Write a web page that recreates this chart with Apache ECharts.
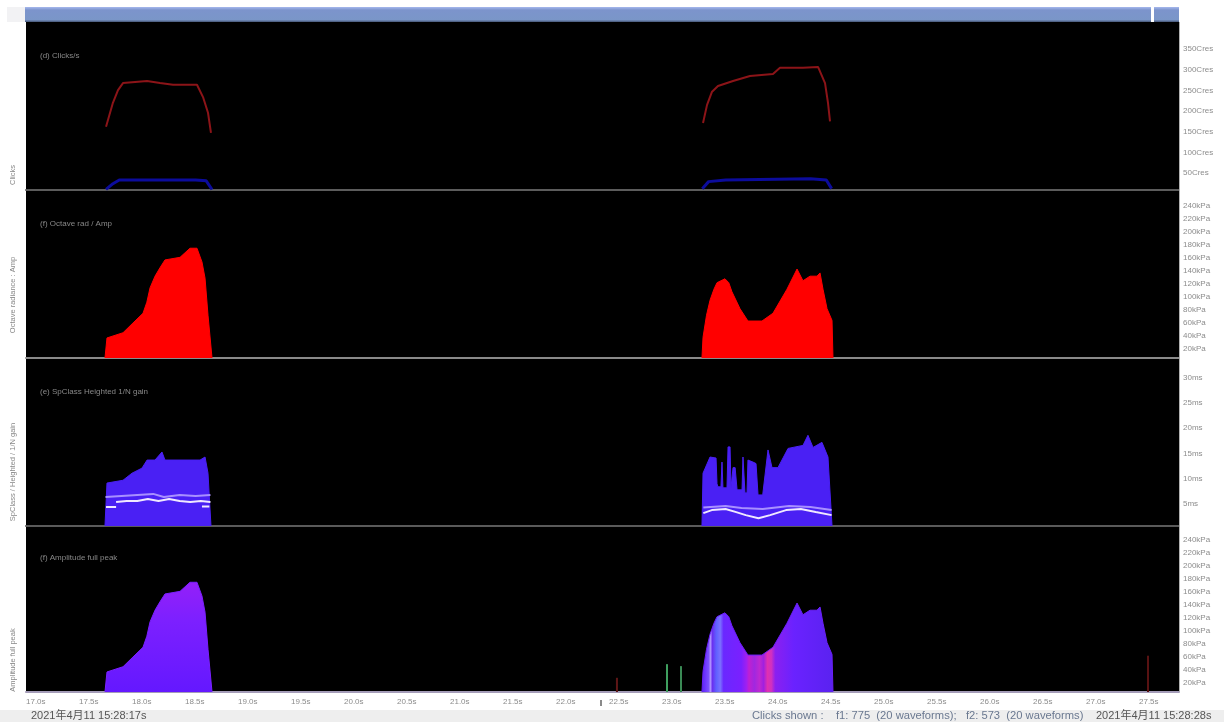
<!DOCTYPE html>
<html><head><meta charset="utf-8">
<style>html,body{margin:0;padding:0;background:#fff}#c{width:1224px;height:722px;filter:blur(.7px)}</style>
<script src="https://cdn.jsdelivr.net/npm/echarts@6/dist/echarts.min.js"></script>
</head><body><div id="c"></div>
<script>
// ---- data (time in seconds from the left edge) ----
const timeTickLabels = ['17.0s','17.5s','18.0s','18.5s','19.0s','19.5s','20.0s','20.5s','21.0s','21.5s','22.0s','22.5s','23.0s','23.5s','24.0s','24.5s','25.0s','25.5s','26.0s','26.5s','27.0s','27.5s'];
const clickTicks = [50,100,150,200,250,300,350];
const clickTickLabels = ['50Cres','100Cres','150Cres','200Cres','250Cres','300Cres','350Cres'];
const ampTicks = [20,40,60,80,100,120,140,160,180,200,220,240];
const ampTickLabels = ['20kPa','40kPa','60kPa','80kPa','100kPa','120kPa','140kPa','160kPa','180kPa','200kPa','220kPa','240kPa'];
const gainTicks = [5,10,15,20,25,30];
const gainTickLabels = ['5ms','10ms','15ms','20ms','25ms','30ms'];

const redClicksT = [.755,.82,.868,.915,1.142,1.264,1.387,1.613,1.67,1.717,1.745,1.75, 6.387,6.425,6.472,6.528,6.67,6.83,7.047,7.113,7.33,7.472,7.538,7.566,7.585];
const redClicksV = [162,220,251,268,273,268,264,264,234,196,147,null, 171,215,247,261,273,285,290,305,305,307,268,220,175];
const blueClicksT = [.755,.82,.88,1.6,1.7,1.755,1.76, 6.38,6.44,6.6,7.4,7.55,7.6];
const blueClicksV = [10,24,33,33,31,10,null, 12,29,33,36,33,12];

const ampLeftT = [.745,.764,.915,1.009,1.104,1.14,1.17,1.217,1.264,1.311,1.453,1.547,1.613,1.66,1.689,1.717,1.755];
const ampLeftV = [6.15,37,45,60,75,92,114,132,145,157,161,175,175,154,129,72,6.15];
const ampRightT = [6.377,6.387,6.42,6.453,6.49,6.519,6.594,6.63,6.66,6.736,6.811,6.943,7.047,7.179,7.274,7.33,7.396,7.462,7.491,7.519,7.557,7.604,7.613];
const ampRightV = [6.15,38,72,95,112,122,128,122,108,82,63,63,75,112,143,125,132,132,137,112,82,64,6.15];

const gainLeftT = [.745,.764,.915,1,1.094,1.142,1.217,1.283,1.311,1.642,1.689,1.717,1.745];
const gainLeftV = [.65,9.15,9.7,11.1,12.1,13.7,13.7,15.3,13.7,13.7,14.3,11.1,.65];
const gainRightT = [6.377,6.387,6.453,6.51,6.519,6.528,6.556,6.566,6.575,6.613,6.623,6.642,6.651,6.67,6.69,6.708,6.717,6.755,6.764,6.774,6.783,6.802,6.811,6.858,6.887,6.906,6.95,7,7.038,7.094,7.189,7.33,7.377,7.425,7.509,7.566,7.604];
const gainRightV = [.65,11.1,14.3,14.1,9,8.4,8.4,13.3,8.2,8.2,16.3,16.3,8.2,12.2,12.2,7.8,7.8,7.8,14.3,14.3,7.2,7.2,13.7,13.3,13,6.8,6.8,15.7,12.2,12.2,16,16.6,18.6,16.2,17.2,14.3,.65];

const whiteT = [.755,.85,.851, .85,.95,1.05,1.15,1.25,1.35,1.45,1.55,1.65,1.74,1.75, 1.66,1.73,1.74, 6.39,6.47,6.6,6.7,6.79,6.91,7.02,7.17,7.31,7.45,7.6];
const whiteV = [4.4,4.4,null, 5.4,5.6,5.6,6,5.6,6,5.6,5.4,5.6,5.4,null, 4.5,4.5,null, 3.2,3.8,4,3.4,2.8,2.2,2.8,3.8,4,3.4,2.8];
const lilacT = [.75,.9,1.05,1.2,1.3,1.45,1.6,1.74,1.75, 6.39,6.6,6.75,6.95,7.2,7.4,7.6];
const lilacV = [6.4,6.6,6.8,7,6.4,6.8,6.6,6.8,null, 4.3,4.6,4.2,4,4.6,4.4,3.8];

const spikeT = [5.575,6.047,6.179,10.585];
const spikeV = [28,49,46,62];
const spikeColors = ['#5e1616','#3f9f5f','#3a8a55','#581212'];

const zip = (t,v) => t.map((x,i)=>[x,v[i]]);

// ---- layout ----
const L = 26, W = 1153, H = 722, gridY = [[22,190],[192,358],[360,526],[528,692]];
const sepColors = ['#5c5c5c','#8a8a8a','#5a5a5a','#a49cb8'];
const yCfg = [
  {min:8.7,max:416,ticks:clickTicks,labels:clickTickLabels},
  {min:6.15,max:261.5,ticks:ampTicks,labels:ampTickLabels},
  {min:.65,max:33.5,ticks:gainTicks,labels:gainTickLabels},
  {min:6.15,max:258.5,ticks:ampTicks,labels:ampTickLabels}
];
const grids = gridY.map(([a,b])=>({left:L,width:W,top:a,height:b-a,containLabel:false}));
const xAxes = gridY.map((_,i)=>({
  type:'value',gridIndex:i,min:0,max:W/106,interval:.5,splitLine:{show:false},axisTick:{show:false},
  axisLine:{show:true,onZero:false,lineStyle:{color:sepColors[i],width:2}},
  axisLabel:{show:i===3,align:'left',margin:6,fontSize:8,color:'#8c8c8c',fontFamily:'Liberation Sans',showMaxLabel:false,
    formatter:v=>timeTickLabels[Math.round(v*2)]||''}
}));
const yAxes = yCfg.map((c,i)=>({
  type:'value',gridIndex:i,position:'right',min:c.min,max:c.max,splitLine:{show:false},axisTick:{show:false},axisLine:{show:false},
  axisLabel:{align:'left',margin:4,fontSize:8,color:'#8c8c8c',fontFamily:'Liberation Sans',customValues:c.ticks,padding:[3,0,0,0],
    formatter:v=>c.labels[c.ticks.indexOf(v)]}
}));
const g = (x,stops)=>new echarts.graphic.LinearGradient(0,0,x?1:0,x?0:1,stops.map(([o,c])=>({offset:o,color:c})));
const line=(i,t,v,color,width,z)=>({type:'line',xAxisIndex:i,yAxisIndex:i,data:zip(t,v),showSymbol:false,connectNulls:false,z:z||3,lineStyle:{color,width},itemStyle:{color},silent:true,clip:true});
const area=(i,t,v,fill,edge)=>({type:'line',xAxisIndex:i,yAxisIndex:i,data:zip(t,v),showSymbol:false,silent:true,z:2,lineStyle:{color:edge,width:1},itemStyle:{color:edge},areaStyle:{color:fill,opacity:1,origin:'start'}});

const leftAmpFill = g(false,[[0,'#9420f8'],[.35,'#7c20ff'],[1,'#6418ff']]);
const rightAmpFill = g(true,[[0,'#5a2cf0'],[.02,'#6a30ff'],[.05,'#7a50ff'],[.065,'#b090ff'],[.08,'#6a30f0'],[.11,'#6060ff'],[.14,'#7a70ff'],[.165,'#6a28ff'],[.3,'#7a20ff'],[.34,'#a020f0'],[.36,'#c020d0'],[.4,'#a028e0'],[.44,'#c028d0'],[.47,'#a020e0'],[.5,'#e030b0'],[.53,'#d030c0'],[.56,'#8a20f0'],[.7,'#6a22ff'],[1,'#5a22f0']]);

const series = [
  line(0,redClicksT,redClicksV,'#8c1418',2),
  line(0,blueClicksT,blueClicksV,'#0c0c9c',3),
  area(1,ampLeftT,ampLeftV,'#ff0000','#ff0000'),
  area(1,ampRightT,ampRightV,'#ff0000','#ff0000'),
  area(2,gainLeftT,gainLeftV,'#4a20f4','#4a20f4'),
  area(2,gainRightT,gainRightV,'#4a20f4','#4a20f4'),
  line(2,lilacT,lilacV,'#a890ff',2,3),
  line(2,whiteT,whiteV,'#f0e8ff',2,4),
  area(3,ampLeftT,ampLeftV,leftAmpFill,'#7a20ff'),
  area(3,ampRightT,ampRightV,rightAmpFill,'#6a20f8'),
  {type:'bar',xAxisIndex:3,yAxisIndex:3,barWidth:2,silent:true,z:2,
   data:spikeT.map((t,i)=>({value:[t,spikeV[i]],itemStyle:{color:spikeColors[i]}}))}
];

const titleTexts = [['(d) Clicks/s',52],['(f) Octave rad / Amp',220],['(e) SpClass Heighted 1/N gain',388],['(f) Amplitude full peak',554]];
const sideTexts = [['Clicks',175],['Octave radiance : Amp',295],['SpClass / Heighted / 1/N gain',472],['Amplitude full peak',660]];
const txt=(x,y,text,o)=>({type:'text',x,y,z:20,style:Object.assign({text,fontFamily:'Liberation Sans',fontSize:8,fill:'#888'},o||{})});

const graphic = [
  {type:'rect',z:-5,shape:{x:L,y:22,width:W,height:670},style:{fill:'#000'}},
  {type:'rect',z:5,shape:{x:L-1,y:7,width:W+1,height:15},style:{fill:new echarts.graphic.LinearGradient(0,0,0,1,[{offset:0,color:'#a6b8ee'},{offset:.2,color:'#7c94cc'},{offset:.85,color:'#7a96c8'},{offset:1,color:'#465674'}])}},
  {type:'rect',z:6,shape:{x:1151,y:7,width:3,height:15},style:{fill:'#fff'}},
  {type:'rect',z:5,shape:{x:7,y:7,width:18,height:15},style:{fill:'#f2f2f4'}},
  {type:'rect',z:5,shape:{x:1179,y:22,width:1,height:670},style:{fill:'#b0b0b0'}},
  {type:'rect',z:5,shape:{x:0,y:710,width:1224,height:12},style:{fill:'#eeeeee'}},
  {type:'rect',z:5,shape:{x:600,y:700,width:2,height:6},style:{fill:'#8a8a8a'}},
  ...titleTexts.map(([t,y])=>txt(40,y,t)),
  ...sideTexts.map(([t,y])=>({type:'text',z:20,x:13,y,rotation:Math.PI/2,style:{text:t,fontFamily:'Liberation Sans',fontSize:7.5,fill:'#888',textAlign:'center',textVerticalAlign:'middle'}})),
  txt(31,710,'2021年4月11 15:28:17s',{fontSize:11,fill:'#555',fontFamily:'Liberation Sans, Noto Sans CJK SC'}),
  txt(752,710,'Clicks shown :    f1: 775  (20 waveforms);   f2: 573  (20 waveforms)',{fontSize:11.2,fill:'#6a7890'}),
  txt(1096,710,'2021年4月11 15:28:28s',{fontSize:11,fill:'#555',fontFamily:'Liberation Sans, Noto Sans CJK SC'})
];

const chart = echarts.init(document.getElementById('c'),null,{width:1224,height:H,renderer:'canvas'});
chart.setOption({animation:false,backgroundColor:'#fff',grid:grids,xAxis:xAxes,yAxis:yAxes,series,graphic});
</script></body></html>
